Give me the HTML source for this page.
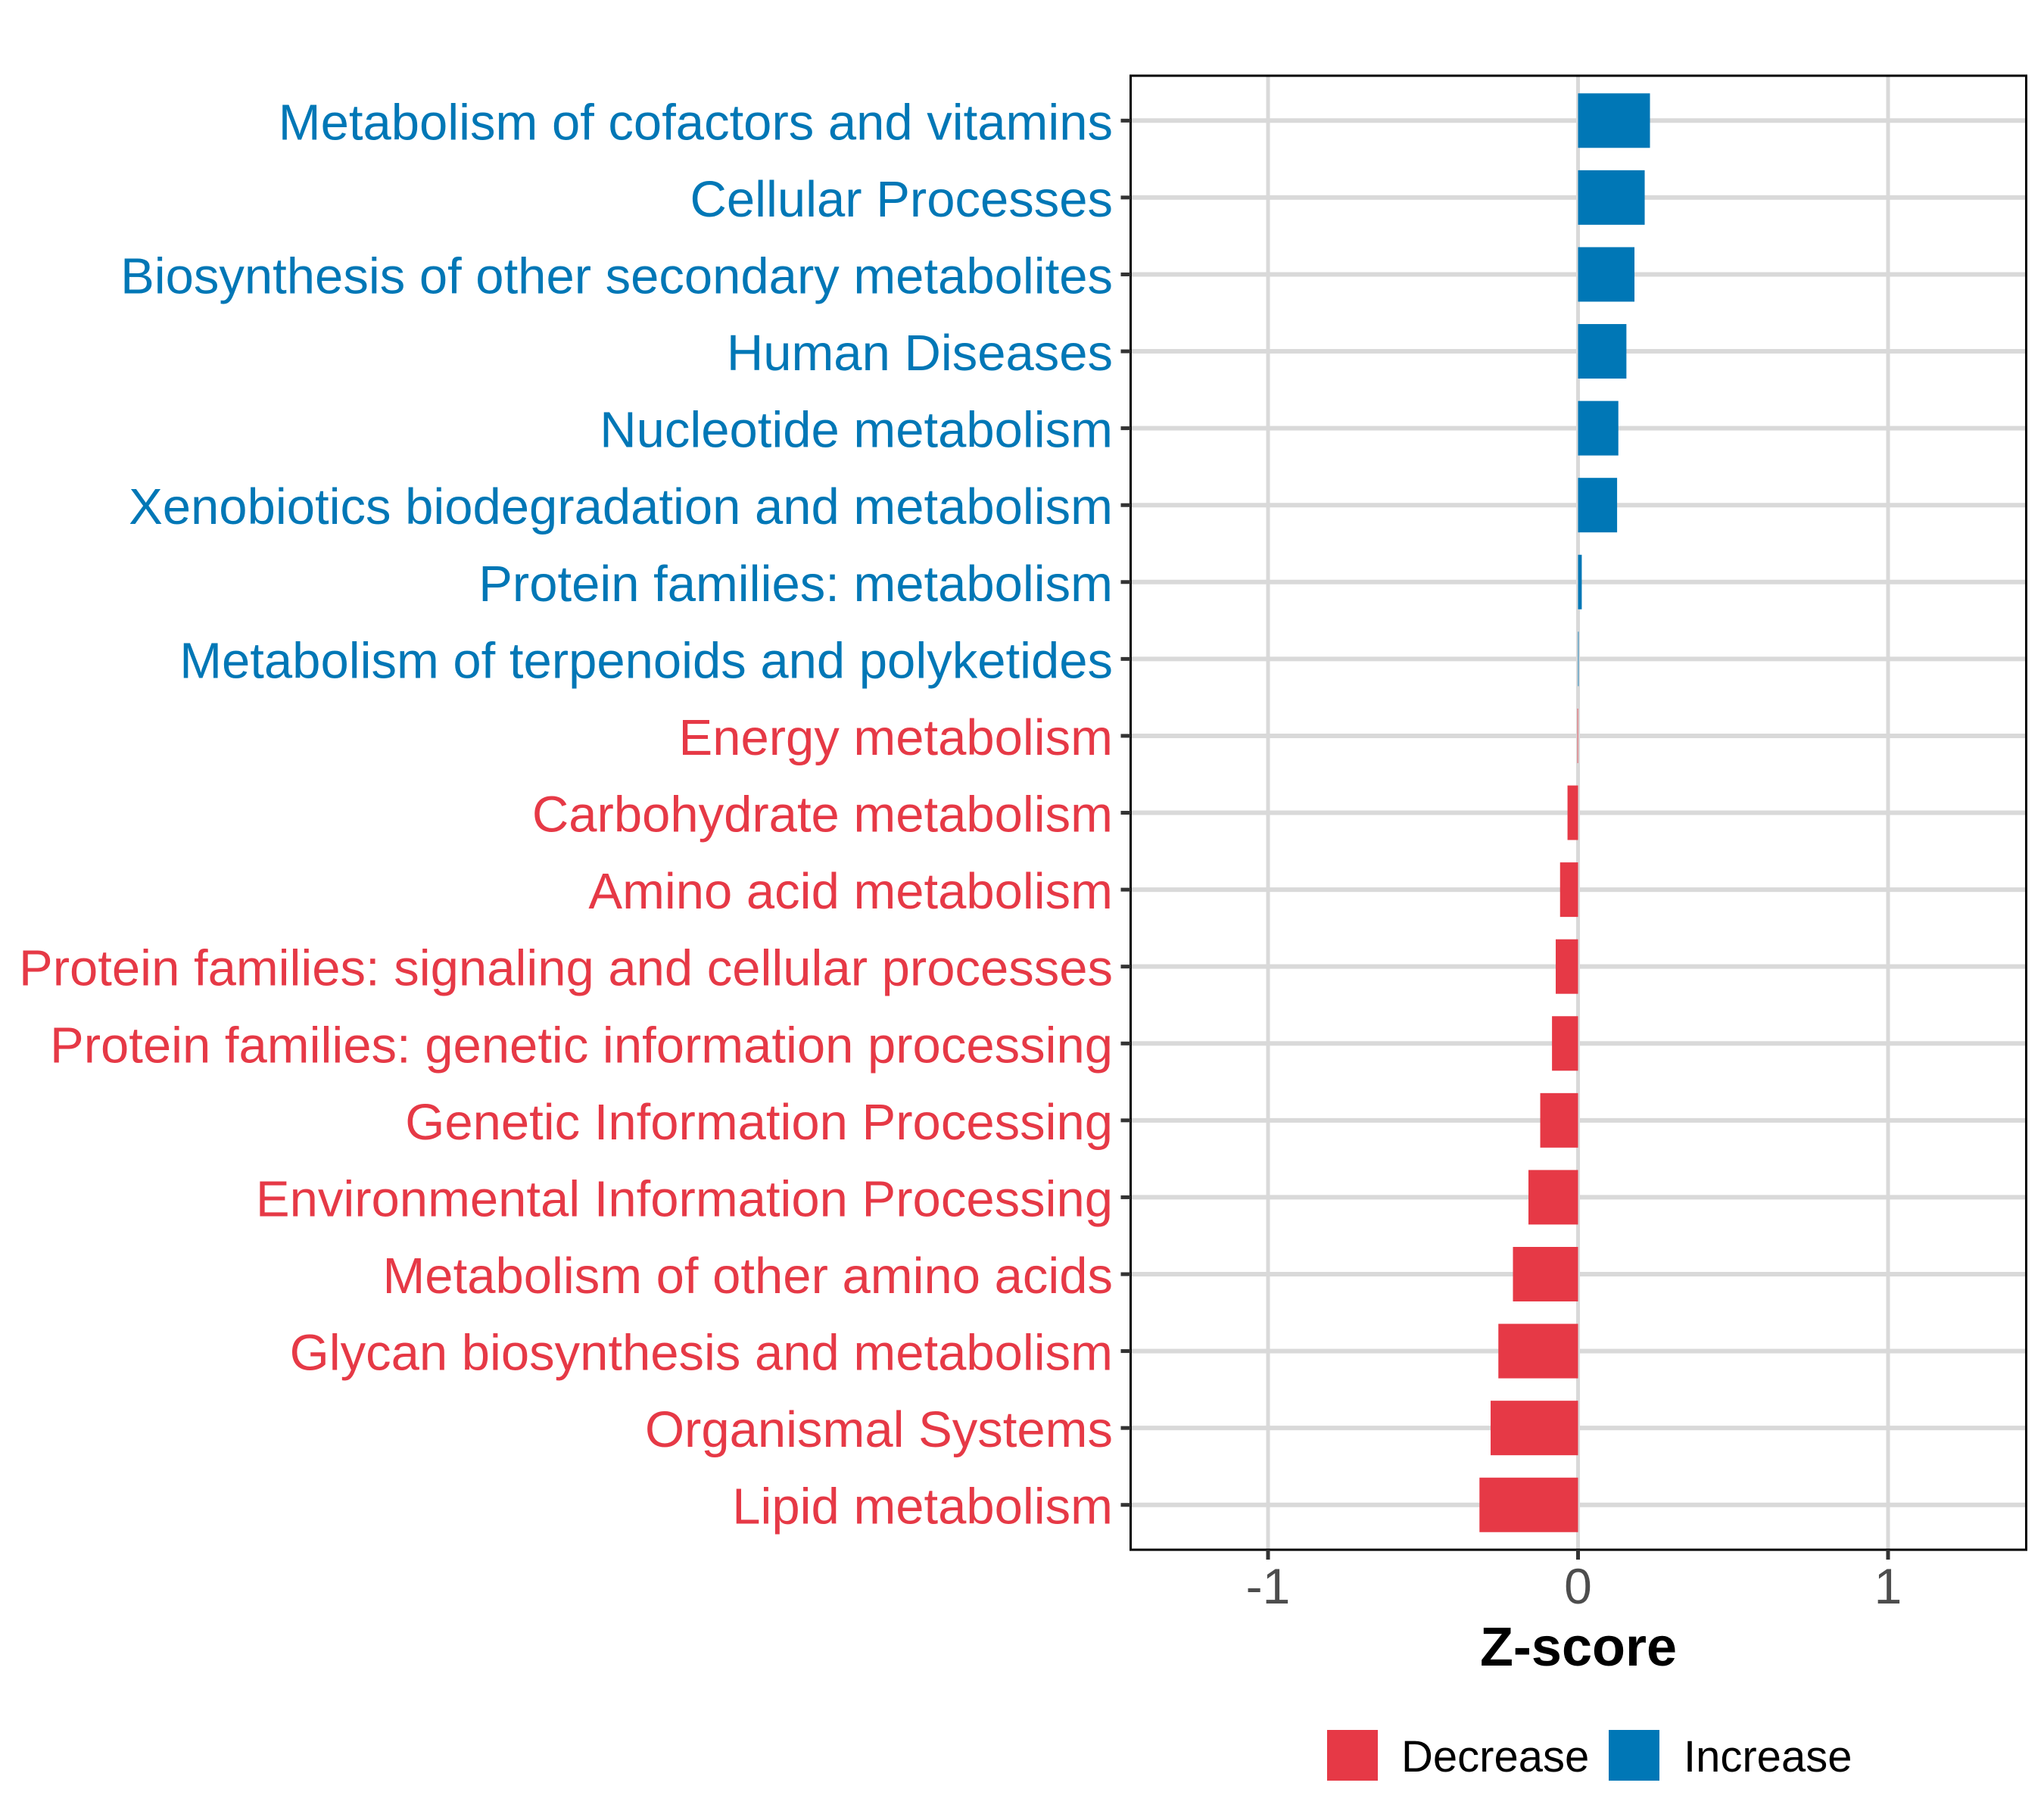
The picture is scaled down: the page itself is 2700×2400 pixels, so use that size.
<!DOCTYPE html>
<html><head><meta charset="utf-8"><style>
html,body{margin:0;padding:0;background:#fff;}
svg{display:block;font-family:"Liberation Sans",Arial,sans-serif;}
</style></head><body>
<svg id="chart" width="2700" height="2400" viewBox="0 0 2700 2400" xmlns="http://www.w3.org/2000/svg">
<rect x="0" y="0" width="2700" height="2400" fill="#fff"/>
<g id="grid"></g>
<g id="bars"></g>
<rect x="1493.5" y="100" width="1183" height="1947" fill="none" stroke="#000" stroke-width="3"/>
<g id="yaxis"></g>
<g id="xaxis"></g>
<text x="2085" y="2200" text-anchor="middle" font-size="72" font-weight="bold" fill="#000">Z-score</text>
<g>
<rect x="1753" y="2285" width="67" height="67" fill="#E63946"/>
<text x="1851" y="2340" font-size="58" fill="#000">Decrease</text>
<rect x="2125" y="2285" width="67" height="67" fill="#0077B6"/>
<text x="2224" y="2340" font-size="58" fill="#000">Increase</text>
</g>
</svg>
<script>
const categories = ["Metabolism of cofactors and vitamins","Cellular Processes","Biosynthesis of other secondary metabolites","Human Diseases","Nucleotide metabolism","Xenobiotics biodegradation and metabolism","Protein families: metabolism","Metabolism of terpenoids and polyketides","Energy metabolism","Carbohydrate metabolism","Amino acid metabolism","Protein families: signaling and cellular processes","Protein families: genetic information processing","Genetic Information Processing","Environmental Information Processing","Metabolism of other amino acids","Glycan biosynthesis and metabolism","Organismal Systems","Lipid metabolism"];
const zscores = [0.232,0.215,0.182,0.156,0.13,0.126,0.012,0.002,-0.002,-0.034,-0.058,-0.072,-0.084,-0.122,-0.16,-0.21,-0.257,-0.282,-0.318];
const xTicks = [-1,0,1];
const xTickLabels = ["-1","0","1"];

const NS = "http://www.w3.org/2000/svg";
const X0 = 2084.5, UNIT = 409.5;
const PL = 1493.5, PR = 2676.5, PT = 100, PB = 2047;
const ROW0 = 159.3, STEP = 101.58, BARH = 72;
function xScale(v){ return X0 + v*UNIT; }
function yScale(i){ return ROW0 + i*STEP; }
function mk(tag, attrs, parent){
  const el = document.createElementNS(NS, tag);
  for (const k in attrs) el.setAttribute(k, attrs[k]);
  parent.appendChild(el);
  return el;
}
const grid = document.getElementById('grid');
const bars = document.getElementById('bars');
const yaxis = document.getElementById('yaxis');
const xaxis = document.getElementById('xaxis');

xTicks.forEach((t, i) => {
  const x = xScale(t);
  const g = mk('line', {x1:x, x2:x, y1:PT, y2:PB, stroke:'#D9D9D9', 'stroke-width':5}, grid);
  
  
  const tk = mk('line', {x1:x, x2:x, y1:PB, y2:PB+13, stroke:'#333', 'stroke-width':5}, xaxis);
  
  
  const lb = mk('text', {x:x, y:2118, 'text-anchor':'middle', 'font-size':66, fill:'#4D4D4D'}, xaxis);
  lb.textContent = xTickLabels[i];
  
  
});

categories.forEach((c, i) => {
  const y = yScale(i);
  const v = zscores[i];
  const col = v >= 0 ? '#0077B6' : '#E63946';
  const gl = mk('line', {x1:PL, x2:PR, y1:y, y2:y, stroke:'#D9D9D9', 'stroke-width':6}, grid);
  
  
  const x1 = xScale(Math.min(0, v)), x2 = xScale(Math.max(0, v));
  const b = mk('rect', {x:x1, y:y-BARH/2, width:Math.max(x2-x1, 0.8), height:BARH, fill:col}, bars);
  
  
  const tk = mk('line', {x1:PL-13, x2:PL, y1:y, y2:y, stroke:'#333', 'stroke-width':5}, yaxis);
  
  
  const lb = mk('text', {x:1470, y:y+25, 'text-anchor':'end', 'font-size':67, fill:col}, yaxis);
  lb.textContent = c;
  
  
});
</script>
</body></html>
